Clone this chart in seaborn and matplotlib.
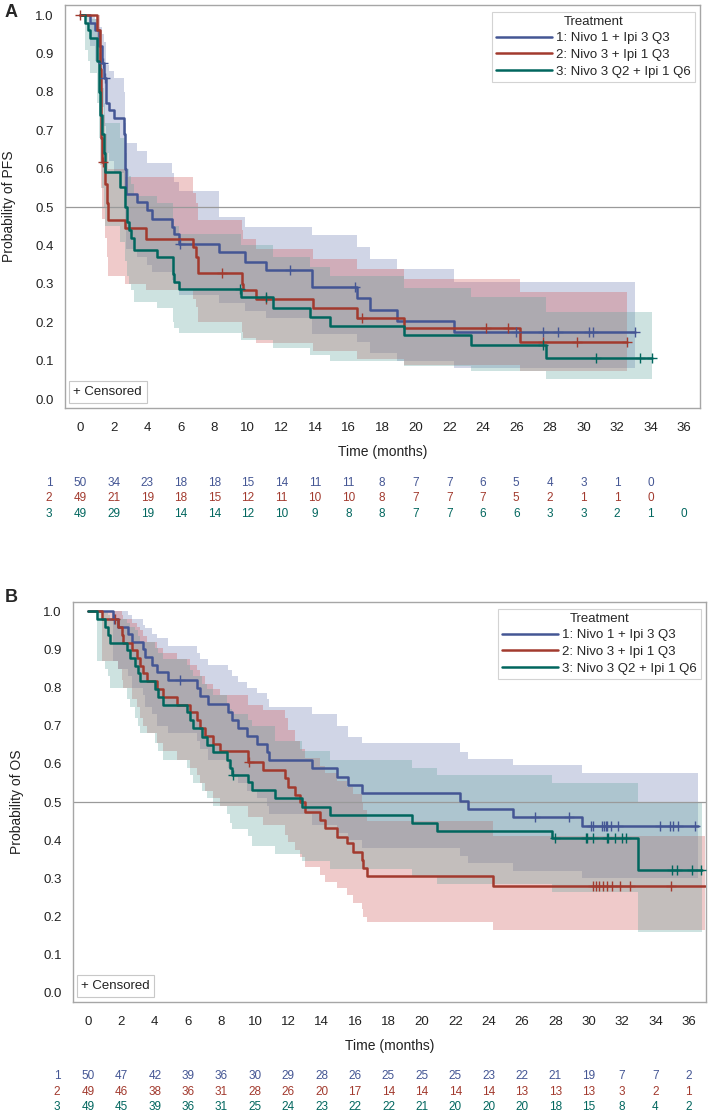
import numpy as np
import pandas as pd
import matplotlib
matplotlib.use('Agg')
import matplotlib.pyplot as plt
import matplotlib.transforms as mtransforms
from matplotlib.lines import Line2D
import seaborn as sns

# treatment arms
groups = ['1: Nivo 1 + Ipi 3 Q3', '2: Nivo 3 + Ipi 1 Q3', '3: Nivo 3 Q2 + Ipi 1 Q6']
line_colors = ['#445694', '#A23A2E', '#01665E']
band_colors = ['#6F7EB3', '#D05B5B', '#66A5A0']
risk_times = list(range(0, 37, 2))

# ---- PFS (panel A) ----
pfs1_t = [0, 0.6, 0.9, 1.1, 1.3, 1.45, 1.55, 1.7, 2.0, 2.6, 2.65, 2.75, 3.4, 4.0, 4.3, 5.5, 5.6, 5.9,
          8.3, 9.8, 11.1, 13.8, 16.5, 17.3, 18.9, 22.3]
pfs1_s = [1.0, 0.98, 0.96, 0.92, 0.875, 0.835, 0.77, 0.753, 0.731, 0.69, 0.60, 0.535, 0.514, 0.492, 0.470,
          0.449, 0.431, 0.405, 0.384, 0.358, 0.336, 0.293, 0.263, 0.232, 0.203, 0.175]
pfs1_hi = [1.0, 1.0, 0.99, 0.97, 0.95, 0.93, 0.87, 0.855, 0.835, 0.80, 0.72, 0.666, 0.645, 0.614, 0.614,
           0.59, 0.566, 0.543, 0.475, 0.449, 0.449, 0.427, 0.397, 0.366, 0.340, 0.305]
pfs1_lo = [1.0, 0.92, 0.88, 0.82, 0.76, 0.71, 0.64, 0.62, 0.59, 0.55, 0.46, 0.39, 0.37, 0.35, 0.33,
           0.31, 0.30, 0.27, 0.25, 0.23, 0.21, 0.17, 0.15, 0.12, 0.10, 0.08]
pfs1_cens = [1.35, 1.5, 5.95, 12.5, 16.4, 26.0, 27.6, 28.5, 30.35, 30.6, 33.07]
pfs1_end = 33.07

pfs2_t = [0, 0.99, 1.19, 1.22, 1.25, 1.29, 1.5, 1.6, 1.69, 2.7, 3.9, 6.75, 6.9, 7.0, 9.65, 9.7, 10.5,
          13.9, 16.5, 19.3, 26.2]
pfs2_s = [1.0, 0.96, 0.86, 0.76, 0.68, 0.618, 0.56, 0.51, 0.466, 0.445, 0.418, 0.397, 0.371, 0.329,
          0.301, 0.284, 0.260, 0.236, 0.210, 0.184, 0.148]
pfs2_hi = [1.0, 1.0, 0.93, 0.86, 0.79, 0.74, 0.69, 0.64, 0.60, 0.579, 0.579, 0.536, 0.51, 0.466,
           0.44, 0.418, 0.392, 0.366, 0.340, 0.312, 0.279]
pfs2_lo = [1.0, 0.88, 0.75, 0.64, 0.55, 0.47, 0.42, 0.37, 0.32, 0.30, 0.285, 0.26, 0.24, 0.20,
           0.175, 0.16, 0.146, 0.125, 0.105, 0.09, 0.072]
pfs2_cens = [0.0, 1.38, 8.44, 11.1, 16.8, 24.2, 25.5, 27.6, 29.6, 32.6]
pfs2_end = 32.6

pfs3_t = [0, 0.3, 0.45, 0.6, 1.0, 1.1, 1.2, 1.3, 1.4, 1.49, 2.4, 2.65, 2.8, 2.9, 3.05, 3.2, 4.57,
          5.56, 5.62, 5.87, 9.6, 11.5, 13.7, 14.9, 19.3, 23.3, 27.8]
pfs3_s = [1.0, 0.98, 0.96, 0.939, 0.88, 0.80, 0.74, 0.69, 0.64, 0.592, 0.551, 0.50, 0.46, 0.44, 0.42,
          0.388, 0.371, 0.327, 0.306, 0.286, 0.266, 0.236, 0.214, 0.190, 0.167, 0.142, 0.108]
pfs3_hi = [1.0, 1.0, 1.0, 0.99, 0.96, 0.90, 0.85, 0.81, 0.77, 0.72, 0.68, 0.64, 0.60, 0.58, 0.56,
           0.53, 0.51, 0.47, 0.45, 0.43, 0.40, 0.37, 0.345, 0.32, 0.29, 0.265, 0.227]
pfs3_lo = [1.0, 0.91, 0.88, 0.85, 0.77, 0.68, 0.61, 0.55, 0.50, 0.45, 0.41, 0.36, 0.32, 0.30, 0.285,
           0.253, 0.236, 0.20, 0.185, 0.171, 0.155, 0.133, 0.116, 0.099, 0.086, 0.072, 0.053]
pfs3_cens = [9.55, 11.1, 27.6, 30.75, 33.4, 34.07]
pfs3_end = 34.1

pfs_risk1 = [50, 34, 23, 18, 18, 15, 14, 11, 11, 8, 7, 7, 6, 5, 4, 3, 1, 0]
pfs_risk2 = [49, 21, 19, 18, 15, 12, 11, 10, 10, 8, 7, 7, 7, 5, 2, 1, 1, 0]
pfs_risk3 = [49, 29, 19, 14, 14, 12, 10, 9, 8, 8, 7, 7, 6, 6, 3, 3, 2, 1, 0]

# ---- OS (panel B) ----
os1_t = [0, 1.52, 1.82, 2.42, 2.62, 3.32, 3.42, 3.81, 4.11, 4.81, 6.51, 6.71, 7.21, 8.41, 8.61,
         9.01, 9.51, 10.11, 10.71, 10.85, 13.40, 14.90, 15.60, 16.40, 22.29, 22.79, 25.48, 29.58]
os1_s = [1.0, 0.98, 0.96, 0.94, 0.92, 0.90, 0.88, 0.86, 0.84, 0.82, 0.80, 0.779, 0.758, 0.737, 0.716,
         0.695, 0.674, 0.653, 0.632, 0.611, 0.588, 0.566, 0.545, 0.524, 0.503, 0.482, 0.462, 0.438]
os1_hi = [1.0, 1.0, 1.0, 0.99, 0.98, 0.965, 0.955, 0.94, 0.93, 0.91, 0.89, 0.875, 0.86, 0.845, 0.83,
          0.815, 0.80, 0.785, 0.77, 0.75, 0.73, 0.70, 0.671, 0.654, 0.632, 0.614, 0.597, 0.575]
os1_lo = [1.0, 0.87, 0.85, 0.83, 0.80, 0.78, 0.75, 0.73, 0.70, 0.68, 0.66, 0.64, 0.61, 0.59, 0.57,
          0.55, 0.53, 0.51, 0.49, 0.47, 0.44, 0.42, 0.40, 0.38, 0.36, 0.34, 0.32, 0.30]
os1_cens = [1.55, 5.51, 26.8, 28.8, 30.12, 30.28, 30.82, 30.92, 31.04, 31.12, 31.32, 31.78,
            34.27, 34.87, 35.03, 35.37, 36.37]
os1_end = 36.55

os2_t = [0, 0.82, 1.82, 2.02, 2.12, 2.62, 2.92, 3.12, 3.32, 3.52, 4.11, 4.51, 5.31, 6.11, 6.51,
         6.71, 7.01, 7.51, 7.91, 9.61, 10.51, 11.80, 12.00, 12.40, 12.70, 13.00, 13.90, 14.20, 14.90,
         15.50, 15.90, 16.40, 16.50, 16.70, 24.28]
os2_s = [1.0, 0.98, 0.959, 0.939, 0.918, 0.898, 0.878, 0.857, 0.837, 0.816, 0.796, 0.776, 0.755, 0.735,
         0.714, 0.694, 0.673, 0.653, 0.633, 0.604, 0.584, 0.562, 0.540, 0.518, 0.500, 0.475, 0.453,
         0.431, 0.409, 0.392, 0.370, 0.348, 0.326, 0.305, 0.280]
os2_hi = [1.0, 1.0, 1.0, 0.99, 0.98, 0.97, 0.96, 0.95, 0.935, 0.92, 0.905, 0.89, 0.875, 0.86, 0.845,
          0.83, 0.81, 0.795, 0.78, 0.755, 0.74, 0.72, 0.69, 0.66, 0.64, 0.615, 0.595, 0.575, 0.555,
          0.54, 0.52, 0.50, 0.48, 0.45, 0.41]
os2_lo = [1.0, 0.87, 0.85, 0.82, 0.80, 0.77, 0.75, 0.72, 0.70, 0.68, 0.655, 0.635, 0.61, 0.59, 0.57,
          0.55, 0.53, 0.51, 0.49, 0.46, 0.44, 0.415, 0.395, 0.375, 0.355, 0.33, 0.31, 0.29, 0.275,
          0.257, 0.235, 0.22, 0.20, 0.187, 0.165]
os2_cens = [1.6, 9.65, 30.24, 30.44, 30.64, 30.84, 31.08, 31.38, 31.88, 32.47, 34.91]
os2_end = 36.95

os3_t = [0, 0.52, 1.02, 1.22, 1.32, 2.32, 2.52, 2.82, 3.02, 3.12, 4.01, 4.21, 4.51, 5.91, 6.11,
         6.31, 6.81, 7.11, 7.51, 8.31, 8.51, 8.61, 9.61, 9.81, 11.2, 12.8, 14.5, 19.4, 20.9, 27.78, 32.97]
os3_s = [1.0, 0.98, 0.959, 0.939, 0.918, 0.898, 0.878, 0.857, 0.837, 0.816, 0.796, 0.776, 0.755, 0.735,
         0.714, 0.693, 0.671, 0.65, 0.632, 0.61, 0.588, 0.571, 0.553, 0.531, 0.51, 0.488, 0.466, 0.444,
         0.424, 0.405, 0.321]
os3_hi = [1.0, 1.0, 1.0, 0.99, 0.98, 0.97, 0.96, 0.95, 0.935, 0.92, 0.905, 0.89, 0.875, 0.86, 0.845,
          0.83, 0.81, 0.795, 0.78, 0.76, 0.745, 0.73, 0.715, 0.70, 0.66, 0.635, 0.61, 0.59, 0.57, 0.55, 0.50]
os3_lo = [1.0, 0.87, 0.85, 0.83, 0.80, 0.77, 0.75, 0.72, 0.70, 0.68, 0.655, 0.635, 0.61, 0.59, 0.57,
          0.55, 0.53, 0.51, 0.49, 0.47, 0.445, 0.43, 0.41, 0.385, 0.365, 0.345, 0.325, 0.305, 0.285,
          0.265, 0.16]
os3_cens = [8.71, 27.98, 29.84, 29.92, 30.24, 31.08, 31.18, 31.58, 31.98, 32.24, 35.0, 35.27, 36.2, 36.7]
os3_end = 36.8

os_risk1 = [50, 47, 42, 39, 36, 30, 29, 28, 26, 25, 25, 25, 23, 22, 21, 19, 7, 7, 2]
os_risk2 = [49, 46, 38, 36, 31, 28, 26, 20, 17, 14, 14, 14, 14, 13, 13, 13, 3, 2, 1]
os_risk3 = [49, 45, 39, 36, 31, 25, 24, 23, 22, 22, 21, 20, 20, 20, 18, 15, 8, 4, 2]

sns.set_style('white')
plt.rcParams['font.family'] = ['Liberation Sans', 'DejaVu Sans']

frame_col = '#a6a6a6'
text_col = '#222222'


def draw_panel(ax, curves, risks, ylabel, xlim, ylim):
    rows = []
    for g, (t, s, lo, hi, cens, end) in zip(groups, curves):
        rows.append(pd.DataFrame({'time': t + [end], 'surv': s + [s[-1]], 'Treatment': g}))
    df = pd.concat(rows, ignore_index=True)

    # confidence bands
    for (t, s, lo, hi, cens, end), bc in zip(curves, band_colors):
        ax.fill_between(t + [end], lo + [lo[-1]], hi + [hi[-1]], step='post',
                        color=bc, alpha=0.32, lw=0, zorder=1)

    ax.axhline(0.5, color='#9a9a9a', lw=0.9, zorder=2)

    sns.lineplot(data=df, x='time', y='surv', hue='Treatment', palette=dict(zip(groups, line_colors)),
                 drawstyle='steps-post', estimator=None, errorbar=None, lw=1.8, legend=False,
                 ax=ax, zorder=3)

    # censor marks
    for (t, s, lo, hi, cens, end), lc in zip(curves, line_colors):
        idx = np.searchsorted(t, cens, side='right') - 1
        lev = np.array(s)[idx]
        ax.plot(cens, lev, ls='none', marker='+', ms=7.5, mew=1.0, color=lc, zorder=4)

    ax.set_xlim(*xlim)
    ax.set_ylim(*ylim)
    ax.set_xticks(risk_times)
    ax.set_yticks(np.arange(0, 1.01, 0.1))
    ax.set_yticklabels([f'{v:.1f}' for v in np.arange(0, 1.01, 0.1)])
    ax.tick_params(axis='both', direction='out', length=4.5, width=0.8, color=frame_col,
                   labelsize=9.5, labelcolor=text_col)
    ax.tick_params(axis='x', pad=5.5)
    ax.tick_params(axis='y', pad=3.5)
    for sp in ax.spines.values():
        sp.set_color(frame_col)
        sp.set_linewidth(1.0)

    ax.set_xlabel('Time (months)', fontsize=10, color=text_col)
    ax.set_ylabel(ylabel, fontsize=10, color=text_col)
    ax.xaxis.label.set_va('center')
    ax.yaxis.label.set_va('center')
    ax.xaxis.set_label_coords(0.5, -0.109)
    ax.yaxis.set_label_coords(-0.088, 0.5)

    handles = [Line2D([], [], color=c, lw=1.8) for c in line_colors]
    leg = ax.legend(handles, groups, title='Treatment', loc='upper right',
                    bbox_to_anchor=(0.992, 0.983), borderaxespad=0, fontsize=9.5,
                    title_fontsize=9.5, handlelength=4.3, handletextpad=0.3,
                    labelspacing=0.33, borderpad=0.3, frameon=True, fancybox=False)
    leg.get_frame().set_edgecolor('#c8c8c8')
    leg.get_frame().set_linewidth(0.8)

    ax.text(0.013, 0.025, '+ Censored', transform=ax.transAxes, fontsize=9.5, color=text_col,
            ha='left', va='bottom', zorder=5,
            bbox=dict(boxstyle='square,pad=0.35', fc='white', ec='#c8c8c8', lw=0.8))

    # numbers at risk
    trans = mtransforms.blended_transform_factory(ax.transData, ax.transAxes)
    for k, (counts, lc) in enumerate(zip(risks, line_colors)):
        yy = -0.186 - 0.038 * k
        ax.text(-1.85, yy, str(k + 1), transform=trans, ha='center', va='center',
                fontsize=8.5, color=lc)
        for x, n in zip(risk_times, counts):
            ax.text(x, yy, str(n), transform=trans, ha='center', va='center',
                    fontsize=8.5, color=lc)


fig = plt.figure(figsize=(7.09, 11.15), dpi=100)
axA = fig.add_axes([0.0917, 0.6341, 0.8956, 0.3614])
axB = fig.add_axes([0.1030, 0.1013, 0.8928, 0.3587])

pfs_curves = [
    (pfs1_t, pfs1_s, pfs1_lo, pfs1_hi, pfs1_cens, pfs1_end),
    (pfs2_t, pfs2_s, pfs2_lo, pfs2_hi, pfs2_cens, pfs2_end),
    (pfs3_t, pfs3_s, pfs3_lo, pfs3_hi, pfs3_cens, pfs3_end),
]
os_curves = [
    (os1_t, os1_s, os1_lo, os1_hi, os1_cens, os1_end),
    (os2_t, os2_s, os2_lo, os2_hi, os2_cens, os2_end),
    (os3_t, os3_s, os3_lo, os3_hi, os3_cens, os3_end),
]

draw_panel(axA, pfs_curves, [pfs_risk1, pfs_risk2, pfs_risk3], 'Probability of PFS',
           (-0.9, 36.95), (-0.023, 1.026))
draw_panel(axB, os_curves, [os_risk1, os_risk2, os_risk3], 'Probability of OS',
           (-0.9, 37.03), (-0.024, 1.024))

fig.text(11 / 709, 1 - 12.5 / 1115, 'A', fontsize=13, weight='bold', ha='center', va='center')
fig.text(11 / 709, 1 - 598 / 1115, 'B', fontsize=13, weight='bold', ha='center', va='center')

fig.savefig('out.png', dpi=100)
